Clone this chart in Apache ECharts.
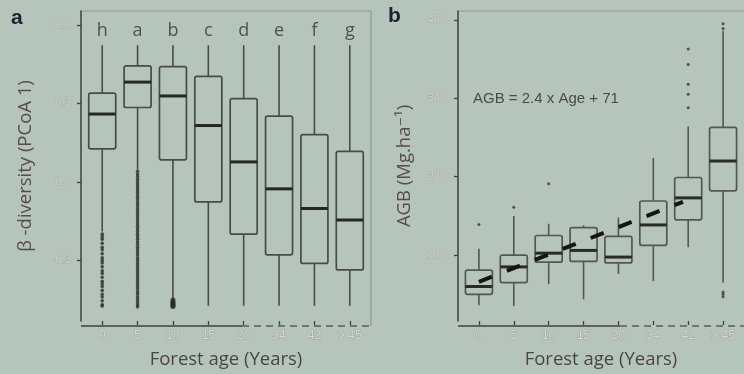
<!DOCTYPE html>
<html><head><meta charset="utf-8">
<script src="https://cdn.jsdelivr.net/npm/echarts@6/dist/echarts.min.js"></script>
<style>html,body{margin:0;padding:0;background:#b6c5bc}#c{width:744px;height:374px}</style>
</head><body><div id="c"></div>
<script>
// ---------- data ----------
const ageLabels = ['0', '5', '10', '15', '20', '34', '42', '> 45'];
const groupLetters = ['h', 'a', 'b', 'c', 'd', 'e', 'f', 'g'];
const betaTicks = [-0.3, 0.0, 0.3, 0.6];
const agbTicks = [100, 200, 300, 400];
// [min, Q1, median, Q3, max]
const betaBoxes = [
  [-0.19, 0.126, 0.259, 0.339, 0.522],
  [0.047, 0.284, 0.381, 0.443, 0.522],
  [-0.45, 0.084, 0.328, 0.440, 0.522],
  [-0.474, -0.077, 0.215, 0.403, 0.522],
  [-0.474, -0.200, 0.076, 0.318, 0.522],
  [-0.474, -0.279, -0.027, 0.251, 0.522],
  [-0.474, -0.312, -0.102, 0.180, 0.522],
  [-0.474, -0.337, -0.146, 0.116, 0.522]
];
const betaOutliersAge0 = [-0.20, -0.21, -0.22, -0.235, -0.25, -0.26, -0.275, -0.29, -0.30, -0.31, -0.325, -0.34, -0.35, -0.365, -0.38, -0.39, -0.40, -0.415, -0.43, -0.44, -0.455, -0.47, -0.475];
const betaOutliersAge5 = [0.04, 0.03, 0.02, 0.01, 0.00, -0.01, -0.02, -0.03, -0.04, -0.05, -0.06, -0.07, -0.08, -0.09, -0.10, -0.11, -0.12, -0.13, -0.14, -0.15, -0.16, -0.17, -0.18, -0.19, -0.20, -0.21, -0.22, -0.23, -0.24, -0.25, -0.26, -0.27, -0.28, -0.29, -0.30, -0.31, -0.32, -0.33, -0.34, -0.35, -0.36, -0.37, -0.38, -0.39, -0.40, -0.41, -0.42, -0.43, -0.44, -0.45, -0.46, -0.47, -0.478];
const betaOutliersAge10 = [-0.452, -0.458, -0.463, -0.468, -0.473, -0.477];
const agbBoxes = [
  [36, 50, 60, 81, 108],
  [35, 65, 85, 100, 150],
  [63, 91, 102.5, 125, 140],
  [43.5, 92, 106, 135, 138],
  [76, 90, 97.5, 124, 148],
  [67, 112.5, 138.5, 169, 224],
  [110, 145, 173, 199, 264],
  [65, 182, 220, 263, 386]
];
const agbOutliers = [
  [0, 139], [1, 161], [2, 191],
  [6, 288], [6, 305], [6, 318], [6, 343], [6, 363],
  [7, 389], [7, 395], [7, 53], [7, 50], [7, 47]
];
const trendIdx = [0, 5.85];
const trendAGB = [66, 168];
const letterY = 0.577;

// ---------- chart ----------
const ink = '#3f3f3f';
const faint = '#ddd6d1';
const titleFont = '"Open Sans", "DejaVu Sans", sans-serif';
const tickFont = '"Liberation Sans", "DejaVu Sans", sans-serif';

function boxRender(bw, stroke, med) {
  return function (params, api) {
    const x = api.value(0);
    const mn = api.coord([x, api.value(1)]);
    const q1 = api.coord([x, api.value(2)]);
    const md = api.coord([x, api.value(3)]);
    const q3 = api.coord([x, api.value(4)]);
    const mx = api.coord([x, api.value(5)]);
    const h = bw / 2;
    return {
      type: 'group', children: [
        { type: 'line', shape: { x1: mx[0], y1: mx[1], x2: q3[0], y2: q3[1] }, style: { stroke: stroke, lineWidth: 1.6 } },
        { type: 'line', shape: { x1: q1[0], y1: q1[1], x2: mn[0], y2: mn[1] }, style: { stroke: stroke, lineWidth: 1.6 } },
        { type: 'rect', shape: { x: q3[0] - h, y: q3[1], width: bw, height: q1[1] - q3[1], r: 2 }, style: { fill: 'none', stroke: stroke, lineWidth: 1.7 } },
        { type: 'line', shape: { x1: md[0] - h, y1: md[1], x2: md[0] + h, y2: md[1] }, style: { stroke: med, lineWidth: 3 } }
      ]
    };
  };
}

function xAxisCfg(gridIndex) {
  return {
    type: 'value', gridIndex: gridIndex, min: -0.6, max: 7.6,
    axisLine: { show: false, onZero: false },
    splitLine: { show: false },
    axisTick: { show: true, customValues: [0, 1, 2, 3, 4, 5, 6, 7], length: 4, lineStyle: { color: ink, width: 1.3 } },
    axisLabel: { customValues: [0, 1, 2, 3, 4, 5, 6, 7], formatter: v => ageLabels[Math.round(v)], color: faint, fontSize: 12, fontFamily: tickFont, margin: 9, textBorderColor: 'rgba(110,110,110,0.35)', textBorderWidth: 1 },
    name: 'Forest age (Years)', nameLocation: 'middle', nameGap: 29,
    nameTextStyle: { color: '#4a4541', fontSize: 18.5, fontFamily: titleFont }
  };
}

const betaScatter = [];
betaOutliersAge0.forEach(v => betaScatter.push([0, v]));
betaOutliersAge5.forEach(v => betaScatter.push([1, v]));
const betaScatterBig = [];
betaOutliersAge10.forEach(v => betaScatterBig.push([2, v]));

const option = {
  backgroundColor: '#b6c5bc',
  animation: false,
  grid: [
    { left: 81, top: 11, width: 290, height: 315 },
    { left: 458, top: 11, width: 290, height: 315 }
  ],
  xAxis: [xAxisCfg(0), xAxisCfg(1)],
  yAxis: [
    {
      type: 'value', gridIndex: 0, min: -0.532, max: 0.6527,
      axisLine: { show: true, onZero: false, lineStyle: { color: ink, width: 1.5 } },
      splitLine: { show: false },
      axisTick: { show: true, customValues: betaTicks, length: 4, lineStyle: { color: ink, width: 1.3 } },
      axisLabel: { customValues: betaTicks, formatter: v => v.toFixed(1), color: faint, fontSize: 11, fontFamily: tickFont, margin: 10, textBorderColor: 'rgba(110,110,110,0.35)', textBorderWidth: 1 },
      name: 'β -diversity (PCoA 1)', nameLocation: 'middle', nameGap: 46,
      nameTextStyle: { color: '#574c47', fontSize: 18.5, fontFamily: titleFont }
    },
    {
      type: 'value', gridIndex: 1, min: 16, max: 411.3,
      axisLine: { show: true, onZero: false, lineStyle: { color: ink, width: 1.5 } },
      splitLine: { show: false },
      axisTick: { show: true, customValues: agbTicks, length: 4, lineStyle: { color: ink, width: 1.3 } },
      axisLabel: { customValues: agbTicks, color: faint, fontSize: 11, fontFamily: tickFont, margin: 12, textBorderColor: 'rgba(110,110,110,0.35)', textBorderWidth: 1 },
      name: 'AGB (Mg.ha⁻¹)', nameLocation: 'middle', nameGap: 44,
      nameTextStyle: { color: '#574c47', fontSize: 18.5, fontFamily: titleFont }
    }
  ],
  series: [
    {
      type: 'custom', xAxisIndex: 0, yAxisIndex: 0, silent: true,
      renderItem: boxRender(27, '#4a4a4a', '#262626'),
      encode: { x: 0, y: [1, 2, 3, 4, 5] },
      data: betaBoxes.map((b, i) => [i].concat(b)),
      z: 3
    },
    {
      type: 'scatter', xAxisIndex: 0, yAxisIndex: 0, silent: true,
      symbolSize: 3.6, itemStyle: { color: '#2b2b2b' },
      data: betaScatter, z: 4
    },
    {
      type: 'scatter', xAxisIndex: 0, yAxisIndex: 0, silent: true,
      symbolSize: 5, itemStyle: { color: '#2b2b2b' },
      data: betaScatterBig, z: 4
    },
    {
      type: 'scatter', xAxisIndex: 0, yAxisIndex: 0, silent: true,
      symbolSize: 0,
      label: { show: true, position: 'inside', formatter: p => groupLetters[p.dataIndex], color: '#333', fontSize: 18, fontFamily: titleFont },
      data: groupLetters.map((g, i) => [i, letterY])
    },
    {
      type: 'custom', xAxisIndex: 1, yAxisIndex: 1, silent: true,
      renderItem: boxRender(27, '#555555', '#2a2a2a'),
      encode: { x: 0, y: [1, 2, 3, 4, 5] },
      data: agbBoxes.map((b, i) => [i].concat(b)),
      z: 3
    },
    {
      type: 'scatter', xAxisIndex: 1, yAxisIndex: 1, silent: true,
      symbolSize: 3, itemStyle: { color: '#333' },
      data: agbOutliers, z: 4
    },
    {
      type: 'line', xAxisIndex: 1, yAxisIndex: 1, silent: true,
      symbol: 'none',
      lineStyle: { color: '#151515', width: 4, type: [14, 16], cap: 'butt' },
      data: trendIdx.map((x, i) => [x, trendAGB[i]]),
      z: 5
    }
  ],
  graphic: [
    // panel labels
    { type: 'text', left: 11, top: 8, style: { text: 'a', font: 'bold 21px "Liberation Sans", sans-serif', fill: '#1c2130' } },
    { type: 'text', left: 388, top: 6, style: { text: 'b', font: 'bold 21px "Liberation Sans", sans-serif', fill: '#1c2130' } },
    // annotation
    { type: 'text', left: 473, top: 91, style: { text: 'AGB = 2.4 x Age + 71', font: '15px "Liberation Sans", sans-serif', fill: '#4a4a4a' } },
    // frame a
    { type: 'line', shape: { x1: 81, y1: 11, x2: 371, y2: 11 }, style: { stroke: '#8d9891', lineWidth: 1.2 } },
    { type: 'line', shape: { x1: 371, y1: 11, x2: 371, y2: 326 }, style: { stroke: '#8d9891', lineWidth: 1.2 } },
    { type: 'line', shape: { x1: 81, y1: 326, x2: 242, y2: 326 }, style: { stroke: ink, lineWidth: 1.5 } },
    { type: 'line', shape: { x1: 242, y1: 326, x2: 371, y2: 326 }, style: { stroke: '#5a5a5a', lineWidth: 1.4, lineDash: [7, 5] } },
    // frame b
    { type: 'line', shape: { x1: 458, y1: 11, x2: 744, y2: 11 }, style: { stroke: '#8d9891', lineWidth: 1.2 } },
    { type: 'line', shape: { x1: 458, y1: 326, x2: 620, y2: 326 }, style: { stroke: ink, lineWidth: 1.5 } },
    { type: 'line', shape: { x1: 620, y1: 326, x2: 744, y2: 326 }, style: { stroke: '#5a5a5a', lineWidth: 1.4, lineDash: [7, 5] } }
  ]
};
const chart = echarts.init(document.getElementById('c'));
chart.setOption(option);
</script>
</body></html>
